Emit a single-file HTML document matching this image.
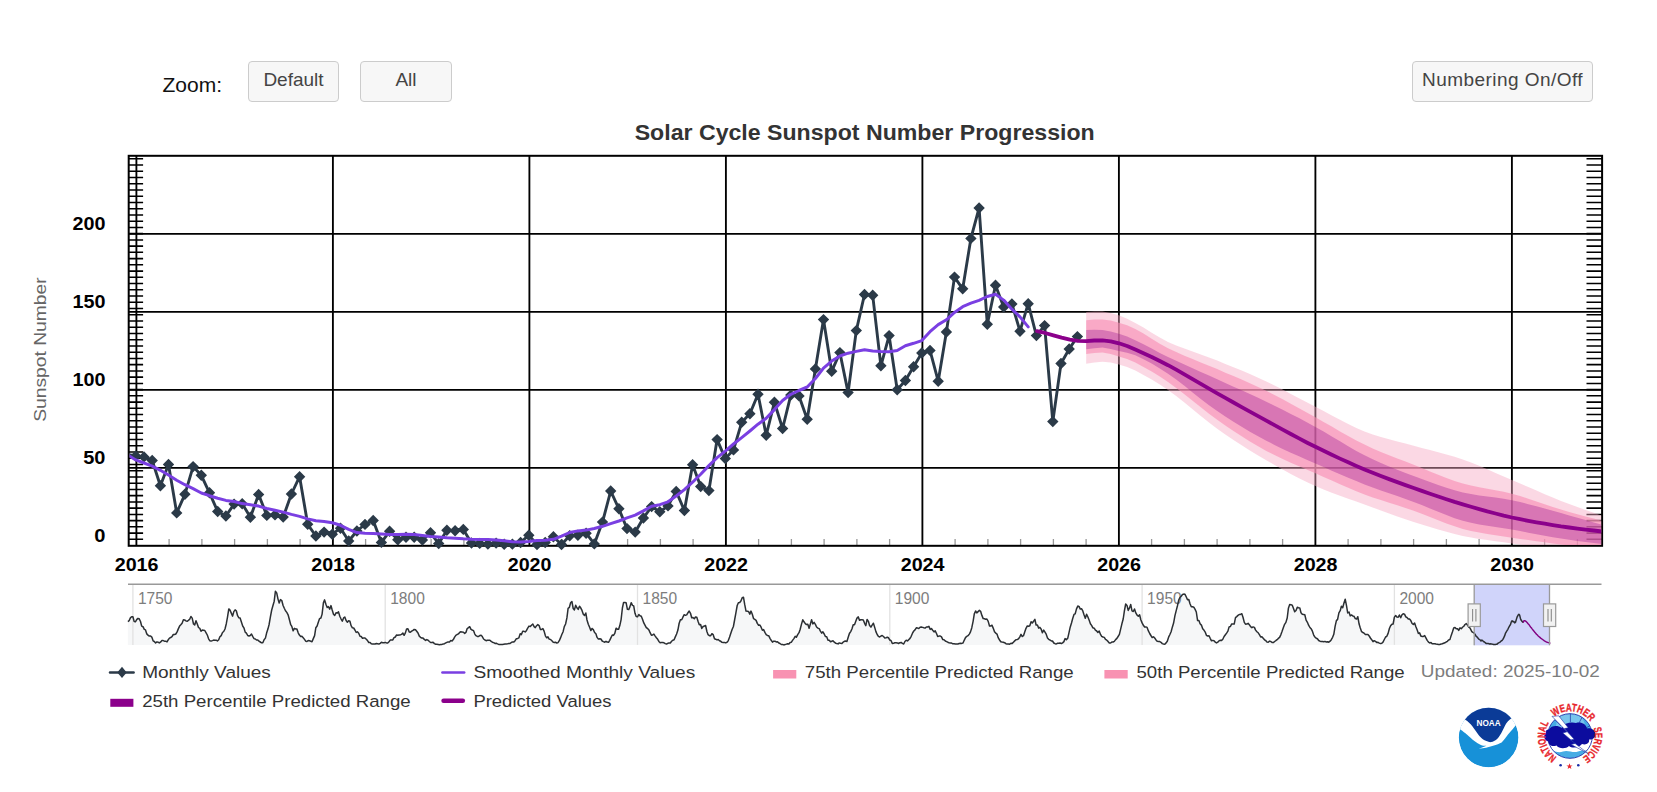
<!DOCTYPE html>
<html lang="en"><head><meta charset="utf-8">
<title>Solar Cycle Sunspot Number Progression</title>
<style>
html,body{margin:0;padding:0;background:#fff;}
body{width:1657px;height:792px;position:relative;overflow:hidden;font-family:"Liberation Sans", "DejaVu Sans", sans-serif;}
#chart{position:absolute;left:0;top:0;}
.btn{position:absolute;box-sizing:border-box;height:41px;top:61px;border:1px solid #ccc;border-radius:4px;background:#f7f7f7;color:#444;font-size:19px;line-height:35px;text-align:center;white-space:nowrap;}
#zl{position:absolute;left:162.5px;top:72px;font-size:21px;line-height:26px;color:#111;white-space:nowrap;}
svg text{font-family:"Liberation Sans", "DejaVu Sans", sans-serif;}
</style></head><body>
<div id="zl">Zoom:</div>
<div class="btn" style="left:248px;width:91px;">Default</div>
<div class="btn" style="left:360px;width:92px;">All</div>
<div class="btn" style="left:1412px;width:181px;letter-spacing:0.45px;">Numbering On/Off</div>
<svg id="chart" width="1657" height="792" viewBox="0 0 1657 792">
<defs><clipPath id="pc"><rect x="129.6" y="156.8" width="1471.6" height="388.2"/></clipPath></defs>
<text x="864.7" y="140.2" text-anchor="middle" font-size="22.5" font-weight="bold" fill="#333" textLength="460" lengthAdjust="spacingAndGlyphs">Solar Cycle Sunspot Number Progression</text>
<text transform="translate(46.2,349.6) rotate(-90)" text-anchor="middle" font-size="17" fill="#666" textLength="144.5" lengthAdjust="spacingAndGlyphs">Sunspot Number</text>
<path d="M128.7 467.9H1602.1M128.7 389.9H1602.1M128.7 311.9H1602.1M128.7 233.9H1602.1M136.4 155.8V545.9M332.9 155.8V545.9M529.4 155.8V545.9M725.9 155.8V545.9M922.4 155.8V545.9M1118.9 155.8V545.9M1315.4 155.8V545.9M1511.9 155.8V545.9" stroke="#000" stroke-width="1.85" fill="none"/>
<path d="M128.7 539.3h14.4M1602.1 539.3h-15.6M128.7 533.1h14.4M1602.1 533.1h-15.6M128.7 526.8h14.4M1602.1 526.8h-15.6M128.7 520.6h14.4M1602.1 520.6h-15.6M128.7 514.4h14.4M1602.1 514.4h-15.6M128.7 508.1h14.4M1602.1 508.1h-15.6M128.7 501.9h14.4M1602.1 501.9h-15.6M128.7 495.6h14.4M1602.1 495.6h-15.6M128.7 489.4h14.4M1602.1 489.4h-15.6M128.7 483.2h14.4M1602.1 483.2h-15.6M128.7 476.9h14.4M1602.1 476.9h-15.6M128.7 470.7h14.4M1602.1 470.7h-15.6M128.7 464.5h14.4M1602.1 464.5h-15.6M128.7 458.2h14.4M1602.1 458.2h-15.6M128.7 452h14.4M1602.1 452h-15.6M128.7 445.7h14.4M1602.1 445.7h-15.6M128.7 439.5h14.4M1602.1 439.5h-15.6M128.7 433.3h14.4M1602.1 433.3h-15.6M128.7 427h14.4M1602.1 427h-15.6M128.7 420.8h14.4M1602.1 420.8h-15.6M128.7 414.5h14.4M1602.1 414.5h-15.6M128.7 408.3h14.4M1602.1 408.3h-15.6M128.7 402.1h14.4M1602.1 402.1h-15.6M128.7 395.8h14.4M1602.1 395.8h-15.6M128.7 389.6h14.4M1602.1 389.6h-15.6M128.7 383.4h14.4M1602.1 383.4h-15.6M128.7 377.1h14.4M1602.1 377.1h-15.6M128.7 370.9h14.4M1602.1 370.9h-15.6M128.7 364.6h14.4M1602.1 364.6h-15.6M128.7 358.4h14.4M1602.1 358.4h-15.6M128.7 352.2h14.4M1602.1 352.2h-15.6M128.7 345.9h14.4M1602.1 345.9h-15.6M128.7 339.7h14.4M1602.1 339.7h-15.6M128.7 333.4h14.4M1602.1 333.4h-15.6M128.7 327.2h14.4M1602.1 327.2h-15.6M128.7 321h14.4M1602.1 321h-15.6M128.7 314.7h14.4M1602.1 314.7h-15.6M128.7 308.5h14.4M1602.1 308.5h-15.6M128.7 302.3h14.4M1602.1 302.3h-15.6M128.7 296h14.4M1602.1 296h-15.6M128.7 289.8h14.4M1602.1 289.8h-15.6M128.7 283.5h14.4M1602.1 283.5h-15.6M128.7 277.3h14.4M1602.1 277.3h-15.6M128.7 271.1h14.4M1602.1 271.1h-15.6M128.7 264.8h14.4M1602.1 264.8h-15.6M128.7 258.6h14.4M1602.1 258.6h-15.6M128.7 252.3h14.4M1602.1 252.3h-15.6M128.7 246.1h14.4M1602.1 246.1h-15.6M128.7 239.9h14.4M1602.1 239.9h-15.6M128.7 233.6h14.4M1602.1 233.6h-15.6M128.7 227.4h14.4M1602.1 227.4h-15.6M128.7 221.2h14.4M1602.1 221.2h-15.6M128.7 214.9h14.4M1602.1 214.9h-15.6M128.7 208.7h14.4M1602.1 208.7h-15.6M128.7 202.4h14.4M1602.1 202.4h-15.6M128.7 196.2h14.4M1602.1 196.2h-15.6M128.7 190h14.4M1602.1 190h-15.6M128.7 183.7h14.4M1602.1 183.7h-15.6M128.7 177.5h14.4M1602.1 177.5h-15.6M128.7 171.2h14.4M1602.1 171.2h-15.6M128.7 165h14.4M1602.1 165h-15.6M128.7 158.8h14.4M1602.1 158.8h-15.6" stroke="#000" stroke-width="1.55" fill="none"/>
<path d="M169.1 545.9v-7M201.9 545.9v-7M234.6 545.9v-7M267.4 545.9v-7M300.1 545.9v-7M365.6 545.9v-7M398.4 545.9v-7M431.1 545.9v-7M463.9 545.9v-7M496.6 545.9v-7M562.1 545.9v-7M594.9 545.9v-7M627.6 545.9v-7M660.4 545.9v-7M693.1 545.9v-7M758.6 545.9v-7M791.4 545.9v-7M824.1 545.9v-7M856.9 545.9v-7M889.6 545.9v-7M955.1 545.9v-7M987.9 545.9v-7M1020.6 545.9v-7M1053.4 545.9v-7M1086.1 545.9v-7M1151.6 545.9v-7M1184.4 545.9v-7M1217.1 545.9v-7M1249.9 545.9v-7M1282.6 545.9v-7M1348.1 545.9v-7M1380.9 545.9v-7M1413.6 545.9v-7M1446.4 545.9v-7M1479.1 545.9v-7M1544.6 545.9v-7M1577.4 545.9v-7" stroke="#999" stroke-width="1.3" fill="none"/>
<rect x="128.7" y="155.8" width="1473.4" height="390" fill="none" stroke="#000" stroke-width="2"/>
<g clip-path="url(#pc)">
<path d="M1086.2 311.9L1094.3 311.5L1102.5 311.6L1110.7 313L1118.9 315.3L1127.1 318.7L1135.3 322.9L1143.5 327.6L1151.7 332.7L1159.8 337.6L1168 341.9L1176.2 345.4L1184.4 348.6L1192.6 351.6L1200.8 354.5L1209 357.4L1217.2 360.6L1225.3 363.9L1233.5 367.2L1241.7 370.6L1249.9 374.1L1258.1 377.7L1266.3 381.5L1274.5 385.4L1282.7 389.6L1290.8 393.9L1299 398.2L1307.2 402.5L1315.4 406.7L1323.6 411L1331.8 415.4L1340 419.7L1348.2 423.9L1356.3 427.9L1364.5 431.4L1372.7 434.4L1380.9 436.9L1389.1 439.2L1397.3 441.4L1405.5 443.5L1413.7 445.7L1421.8 448L1430 450.1L1438.2 452.2L1446.4 454.4L1454.6 456.8L1462.8 459.4L1471 462.5L1479.2 465.8L1487.3 469.3L1495.5 472.9L1503.7 476.5L1511.9 480L1520.1 483.5L1528.3 487.1L1536.5 490.6L1544.7 494.2L1552.8 497.6L1561 500.9L1569.2 504.1L1577.4 507.1L1585.6 510L1593.8 512.8L1602 515.7L1602 554.4L1593.8 553.5L1585.6 552.6L1577.4 551.7L1569.2 550.7L1561 549.7L1552.8 548.7L1544.7 547.7L1536.5 546.7L1528.3 545.6L1520.1 544.5L1511.9 543.4L1503.7 542.2L1495.5 541.2L1487.3 540.1L1479.2 538.9L1471 537.5L1462.8 535.9L1454.6 534L1446.4 531.8L1438.2 529.6L1430 527.1L1421.8 524.6L1413.7 522L1405.5 519.3L1397.3 516.5L1389.1 513.5L1380.9 510.5L1372.7 507.5L1364.5 504.5L1356.3 501.6L1348.2 498.7L1340 495.8L1331.8 492.8L1323.6 489.6L1315.4 486.1L1307.2 482.3L1299 478.3L1290.8 474L1282.7 469.6L1274.5 465L1266.3 460.2L1258.1 455.4L1249.9 450.4L1241.7 445.3L1233.5 440L1225.3 434.5L1217.2 428.7L1209 422.6L1200.8 416L1192.6 409.3L1184.4 402.5L1176.2 396L1168 389.9L1159.8 384.4L1151.7 379.5L1143.5 374.9L1135.3 370.6L1127.1 367L1118.9 364.5L1110.7 362.6L1102.5 361.7L1094.3 362.4L1086.2 363.7Z" fill="#f6a8c3" fill-opacity="0.45"/>
<path d="M1086.2 320.2L1094.3 319.5L1102.5 319.4L1110.7 320.6L1118.9 322.7L1127.1 325.3L1135.3 328.9L1143.5 333.6L1151.7 338.7L1159.8 343.8L1168 348.2L1176.2 352.1L1184.4 355.7L1192.6 359.1L1200.8 362.4L1209 365.7L1217.2 369.1L1225.3 372.7L1233.5 376.1L1241.7 379.6L1249.9 383.2L1258.1 386.9L1266.3 390.8L1274.5 395L1282.7 399.3L1290.8 403.7L1299 408.3L1307.2 412.8L1315.4 417.3L1323.6 421.9L1331.8 426.6L1340 431.4L1348.2 436L1356.3 440.5L1364.5 444.6L1372.7 448.4L1380.9 451.9L1389.1 455.2L1397.3 458.4L1405.5 461.6L1413.7 464.8L1421.8 468L1430 471.4L1438.2 474.7L1446.4 477.9L1454.6 480.9L1462.8 483.5L1471 485.6L1479.2 487.3L1487.3 488.8L1495.5 490.2L1503.7 491.8L1511.9 493.8L1520.1 496.1L1528.3 498.7L1536.5 501.4L1544.7 504.2L1552.8 506.9L1561 509.5L1569.2 511.9L1577.4 514.2L1585.6 516.4L1593.8 518.6L1602 520.9L1602 549.7L1593.8 548.7L1585.6 547.6L1577.4 546.6L1569.2 545.5L1561 544.4L1552.8 543.4L1544.7 542.3L1536.5 541.2L1528.3 540.1L1520.1 539L1511.9 537.7L1503.7 536.5L1495.5 535.3L1487.3 534L1479.2 532.6L1471 530.9L1462.8 528.9L1454.6 526.3L1446.4 523.4L1438.2 520.3L1430 517L1421.8 513.8L1413.7 510.8L1405.5 508L1397.3 505.3L1389.1 502.8L1380.9 500.1L1372.7 497.4L1364.5 494.4L1356.3 491.2L1348.2 487.8L1340 484.2L1331.8 480.6L1323.6 477L1315.4 473.3L1307.2 469.8L1299 466.3L1290.8 462.7L1282.7 459.1L1274.5 455.1L1266.3 450.9L1258.1 446.3L1249.9 441.4L1241.7 436.2L1233.5 430.9L1225.3 425.4L1217.2 419.7L1209 413.7L1200.8 407.3L1192.6 400.8L1184.4 394.2L1176.2 387.9L1168 381.9L1159.8 376.5L1151.7 371.6L1143.5 367L1135.3 362.6L1127.1 359L1118.9 356.4L1110.7 354L1102.5 352.6L1094.3 352.9L1086.2 353.9Z" fill="#f88ab2" fill-opacity="0.6"/>
<path d="M1086.2 330L1094.3 329.8L1102.5 330L1110.7 331.5L1118.9 333.7L1127.1 336.6L1135.3 340.2L1143.5 344.2L1151.7 348.6L1159.8 352.9L1168 357L1176.2 360.8L1184.4 364.6L1192.6 368.3L1200.8 371.9L1209 375.6L1217.2 379.3L1225.3 383L1233.5 386.7L1241.7 390.3L1249.9 394.1L1258.1 397.8L1266.3 401.7L1274.5 405.7L1282.7 409.8L1290.8 413.9L1299 418.1L1307.2 422.4L1315.4 426.9L1323.6 431.5L1331.8 436.4L1340 441.3L1348.2 446.2L1356.3 450.9L1364.5 455.2L1372.7 459.2L1380.9 462.9L1389.1 466.4L1397.3 469.7L1405.5 472.9L1413.7 476L1421.8 479.1L1430 482.1L1438.2 485L1446.4 487.7L1454.6 490.2L1462.8 492.4L1471 494.1L1479.2 495.5L1487.3 496.6L1495.5 497.6L1503.7 498.8L1511.9 500.3L1520.1 502.1L1528.3 504.2L1536.5 506.3L1544.7 508.6L1552.8 510.8L1561 513.1L1569.2 515.4L1577.4 517.7L1585.6 520.1L1593.8 522.4L1602 524.8L1602 544L1593.8 542.9L1585.6 541.9L1577.4 540.9L1569.2 539.7L1561 538.5L1552.8 537.2L1544.7 535.7L1536.5 534.2L1528.3 532.7L1520.1 531.1L1511.9 529.6L1503.7 528.3L1495.5 527L1487.3 525.8L1479.2 524.4L1471 522.8L1462.8 520.7L1454.6 518.2L1446.4 515.1L1438.2 511.8L1430 508.4L1421.8 505L1413.7 501.9L1405.5 498.9L1397.3 496.1L1389.1 493.3L1380.9 490.4L1372.7 487.5L1364.5 484.4L1356.3 481.1L1348.2 477.8L1340 474.3L1331.8 470.7L1323.6 467.1L1315.4 463.5L1307.2 459.9L1299 456.3L1290.8 452.7L1282.7 448.9L1274.5 444.9L1266.3 440.7L1258.1 436.3L1249.9 431.7L1241.7 426.8L1233.5 421.8L1225.3 416.6L1217.2 411.1L1209 405.2L1200.8 398.9L1192.6 392.4L1184.4 385.8L1176.2 379.5L1168 373.7L1159.8 368.4L1151.7 363.6L1143.5 359.2L1135.3 355.3L1127.1 352.7L1118.9 351.1L1110.7 349L1102.5 347.6L1094.3 348.2L1086.2 349.3Z" fill="#8b008b" fill-opacity="0.3"/>
<path d="M127.6 454.4L135.8 456L144 456.9L152.2 460.5L160.4 485.7L168.5 464.5L176.7 512.9L184.9 494.3L193.1 466.6L201.3 475.3L209.5 492.8L217.7 511.5L225.9 516L234.1 504.1L242.2 503.7L250.4 517.2L258.6 494.5L266.8 515.4L275 514.9L283.2 517.1L291.4 494L299.6 476.7L307.7 524.3L315.9 536L324.1 532.1L332.3 534.2L340.5 528.2L348.7 541L356.9 531L365 524.4L373.2 520.5L381.4 542.4L389.6 531.3L397.8 539.7L406 537.2L414.2 537.2L422.4 540L430.5 532.8L438.7 543.6L446.9 530.2L455.1 530.7L463.3 529.4L471.5 543L479.7 543.4L487.9 544.1L496.1 543.1L504.2 544.2L512.4 544.1L520.6 542.5L528.8 535.2L537 544.5L545.2 542.5L553.4 536.7L561.5 544.5L569.7 535.8L577.9 535.3L586.1 533.2L594.3 543.9L602.5 522.1L610.7 491L618.9 508.8L627 528.6L635.2 532.1L643.4 518L651.6 506.6L659.8 511.8L668 505.9L676.2 491.4L684.4 510.5L692.6 464.8L700.7 486.5L708.9 490.6L717.1 439.6L725.3 458.6L733.5 449.9L741.7 422.3L749.9 413.8L758 394.3L766.2 435.2L774.4 402.3L782.6 428.5L790.8 395.1L799 395.9L807.2 419.3L815.4 368.9L823.5 319.6L831.7 371.3L839.9 352.6L848.1 392.6L856.3 330.6L864.5 294.5L872.7 295.3L880.9 365.8L889.1 335.6L897.2 389.8L905.4 380.5L913.6 366.7L921.8 353L930 350.4L938.2 381.2L946.4 332L954.5 277.1L962.7 288.8L970.9 238.4L979.1 208L987.3 324.3L995.5 285.3L1003.7 307L1011.9 303.9L1020 331.2L1028.2 303.7L1036.4 335.6L1044.6 325.6L1052.8 421.6L1061 363.5L1069.2 349L1077.4 336.6" stroke="#2b3a48" stroke-width="2.9" fill="none" stroke-linejoin="round" stroke-linecap="round"/>
</g>
<path d="M135.8 450.3l5.7 5.7l-5.7 5.7l-5.7 -5.7zM144 451.2l5.7 5.7l-5.7 5.7l-5.7 -5.7zM152.2 454.8l5.7 5.7l-5.7 5.7l-5.7 -5.7zM160.4 480l5.7 5.7l-5.7 5.7l-5.7 -5.7zM168.5 458.8l5.7 5.7l-5.7 5.7l-5.7 -5.7zM176.7 507.2l5.7 5.7l-5.7 5.7l-5.7 -5.7zM184.9 488.6l5.7 5.7l-5.7 5.7l-5.7 -5.7zM193.1 460.9l5.7 5.7l-5.7 5.7l-5.7 -5.7zM201.3 469.6l5.7 5.7l-5.7 5.7l-5.7 -5.7zM209.5 487.1l5.7 5.7l-5.7 5.7l-5.7 -5.7zM217.7 505.8l5.7 5.7l-5.7 5.7l-5.7 -5.7zM225.9 510.3l5.7 5.7l-5.7 5.7l-5.7 -5.7zM234.1 498.4l5.7 5.7l-5.7 5.7l-5.7 -5.7zM242.2 498l5.7 5.7l-5.7 5.7l-5.7 -5.7zM250.4 511.5l5.7 5.7l-5.7 5.7l-5.7 -5.7zM258.6 488.8l5.7 5.7l-5.7 5.7l-5.7 -5.7zM266.8 509.7l5.7 5.7l-5.7 5.7l-5.7 -5.7zM275 509.2l5.7 5.7l-5.7 5.7l-5.7 -5.7zM283.2 511.4l5.7 5.7l-5.7 5.7l-5.7 -5.7zM291.4 488.3l5.7 5.7l-5.7 5.7l-5.7 -5.7zM299.6 471l5.7 5.7l-5.7 5.7l-5.7 -5.7zM307.7 518.6l5.7 5.7l-5.7 5.7l-5.7 -5.7zM315.9 530.3l5.7 5.7l-5.7 5.7l-5.7 -5.7zM324.1 526.4l5.7 5.7l-5.7 5.7l-5.7 -5.7zM332.3 528.5l5.7 5.7l-5.7 5.7l-5.7 -5.7zM340.5 522.5l5.7 5.7l-5.7 5.7l-5.7 -5.7zM348.7 535.3l5.7 5.7l-5.7 5.7l-5.7 -5.7zM356.9 525.3l5.7 5.7l-5.7 5.7l-5.7 -5.7zM365 518.7l5.7 5.7l-5.7 5.7l-5.7 -5.7zM373.2 514.8l5.7 5.7l-5.7 5.7l-5.7 -5.7zM381.4 536.7l5.7 5.7l-5.7 5.7l-5.7 -5.7zM389.6 525.6l5.7 5.7l-5.7 5.7l-5.7 -5.7zM397.8 534l5.7 5.7l-5.7 5.7l-5.7 -5.7zM406 531.5l5.7 5.7l-5.7 5.7l-5.7 -5.7zM414.2 531.5l5.7 5.7l-5.7 5.7l-5.7 -5.7zM422.4 534.3l5.7 5.7l-5.7 5.7l-5.7 -5.7zM430.5 527.1l5.7 5.7l-5.7 5.7l-5.7 -5.7zM438.7 537.9l5.7 5.7l-5.7 5.7l-5.7 -5.7zM446.9 524.5l5.7 5.7l-5.7 5.7l-5.7 -5.7zM455.1 525l5.7 5.7l-5.7 5.7l-5.7 -5.7zM463.3 523.7l5.7 5.7l-5.7 5.7l-5.7 -5.7zM471.5 537.3l5.7 5.7l-5.7 5.7l-5.7 -5.7zM479.7 537.7l5.7 5.7l-5.7 5.7l-5.7 -5.7zM487.9 538.4l5.7 5.7l-5.7 5.7l-5.7 -5.7zM496.1 537.4l5.7 5.7l-5.7 5.7l-5.7 -5.7zM504.2 538.5l5.7 5.7l-5.7 5.7l-5.7 -5.7zM512.4 538.4l5.7 5.7l-5.7 5.7l-5.7 -5.7zM520.6 536.8l5.7 5.7l-5.7 5.7l-5.7 -5.7zM528.8 529.5l5.7 5.7l-5.7 5.7l-5.7 -5.7zM537 538.8l5.7 5.7l-5.7 5.7l-5.7 -5.7zM545.2 536.8l5.7 5.7l-5.7 5.7l-5.7 -5.7zM553.4 531l5.7 5.7l-5.7 5.7l-5.7 -5.7zM561.5 538.8l5.7 5.7l-5.7 5.7l-5.7 -5.7zM569.7 530.1l5.7 5.7l-5.7 5.7l-5.7 -5.7zM577.9 529.6l5.7 5.7l-5.7 5.7l-5.7 -5.7zM586.1 527.5l5.7 5.7l-5.7 5.7l-5.7 -5.7zM594.3 538.2l5.7 5.7l-5.7 5.7l-5.7 -5.7zM602.5 516.4l5.7 5.7l-5.7 5.7l-5.7 -5.7zM610.7 485.3l5.7 5.7l-5.7 5.7l-5.7 -5.7zM618.9 503.1l5.7 5.7l-5.7 5.7l-5.7 -5.7zM627 522.9l5.7 5.7l-5.7 5.7l-5.7 -5.7zM635.2 526.4l5.7 5.7l-5.7 5.7l-5.7 -5.7zM643.4 512.3l5.7 5.7l-5.7 5.7l-5.7 -5.7zM651.6 500.9l5.7 5.7l-5.7 5.7l-5.7 -5.7zM659.8 506.1l5.7 5.7l-5.7 5.7l-5.7 -5.7zM668 500.2l5.7 5.7l-5.7 5.7l-5.7 -5.7zM676.2 485.7l5.7 5.7l-5.7 5.7l-5.7 -5.7zM684.4 504.8l5.7 5.7l-5.7 5.7l-5.7 -5.7zM692.6 459.1l5.7 5.7l-5.7 5.7l-5.7 -5.7zM700.7 480.8l5.7 5.7l-5.7 5.7l-5.7 -5.7zM708.9 484.9l5.7 5.7l-5.7 5.7l-5.7 -5.7zM717.1 433.9l5.7 5.7l-5.7 5.7l-5.7 -5.7zM725.3 452.9l5.7 5.7l-5.7 5.7l-5.7 -5.7zM733.5 444.2l5.7 5.7l-5.7 5.7l-5.7 -5.7zM741.7 416.6l5.7 5.7l-5.7 5.7l-5.7 -5.7zM749.9 408.1l5.7 5.7l-5.7 5.7l-5.7 -5.7zM758 388.6l5.7 5.7l-5.7 5.7l-5.7 -5.7zM766.2 429.5l5.7 5.7l-5.7 5.7l-5.7 -5.7zM774.4 396.6l5.7 5.7l-5.7 5.7l-5.7 -5.7zM782.6 422.8l5.7 5.7l-5.7 5.7l-5.7 -5.7zM790.8 389.4l5.7 5.7l-5.7 5.7l-5.7 -5.7zM799 390.2l5.7 5.7l-5.7 5.7l-5.7 -5.7zM807.2 413.6l5.7 5.7l-5.7 5.7l-5.7 -5.7zM815.4 363.2l5.7 5.7l-5.7 5.7l-5.7 -5.7zM823.5 313.9l5.7 5.7l-5.7 5.7l-5.7 -5.7zM831.7 365.6l5.7 5.7l-5.7 5.7l-5.7 -5.7zM839.9 346.9l5.7 5.7l-5.7 5.7l-5.7 -5.7zM848.1 386.9l5.7 5.7l-5.7 5.7l-5.7 -5.7zM856.3 324.9l5.7 5.7l-5.7 5.7l-5.7 -5.7zM864.5 288.8l5.7 5.7l-5.7 5.7l-5.7 -5.7zM872.7 289.6l5.7 5.7l-5.7 5.7l-5.7 -5.7zM880.9 360.1l5.7 5.7l-5.7 5.7l-5.7 -5.7zM889.1 329.9l5.7 5.7l-5.7 5.7l-5.7 -5.7zM897.2 384.1l5.7 5.7l-5.7 5.7l-5.7 -5.7zM905.4 374.8l5.7 5.7l-5.7 5.7l-5.7 -5.7zM913.6 361l5.7 5.7l-5.7 5.7l-5.7 -5.7zM921.8 347.3l5.7 5.7l-5.7 5.7l-5.7 -5.7zM930 344.7l5.7 5.7l-5.7 5.7l-5.7 -5.7zM938.2 375.5l5.7 5.7l-5.7 5.7l-5.7 -5.7zM946.4 326.3l5.7 5.7l-5.7 5.7l-5.7 -5.7zM954.5 271.4l5.7 5.7l-5.7 5.7l-5.7 -5.7zM962.7 283.1l5.7 5.7l-5.7 5.7l-5.7 -5.7zM970.9 232.7l5.7 5.7l-5.7 5.7l-5.7 -5.7zM979.1 202.3l5.7 5.7l-5.7 5.7l-5.7 -5.7zM987.3 318.6l5.7 5.7l-5.7 5.7l-5.7 -5.7zM995.5 279.6l5.7 5.7l-5.7 5.7l-5.7 -5.7zM1003.7 301.3l5.7 5.7l-5.7 5.7l-5.7 -5.7zM1011.9 298.2l5.7 5.7l-5.7 5.7l-5.7 -5.7zM1020 325.5l5.7 5.7l-5.7 5.7l-5.7 -5.7zM1028.2 298l5.7 5.7l-5.7 5.7l-5.7 -5.7zM1036.4 329.9l5.7 5.7l-5.7 5.7l-5.7 -5.7zM1044.6 319.9l5.7 5.7l-5.7 5.7l-5.7 -5.7zM1052.8 415.9l5.7 5.7l-5.7 5.7l-5.7 -5.7zM1061 357.8l5.7 5.7l-5.7 5.7l-5.7 -5.7zM1069.2 343.3l5.7 5.7l-5.7 5.7l-5.7 -5.7zM1077.4 330.9l5.7 5.7l-5.7 5.7l-5.7 -5.7z" fill="#2b3a48"/>
<g clip-path="url(#pc)">
<path d="M127.6 454.8L135.8 459.9L144 463L152.2 466.2L160.4 470.3L168.5 475L176.7 480.2L184.9 484.7L193.1 488.7L201.3 493L209.5 495.7L217.7 498.2L225.9 500.4L234.1 501.5L242.2 503.6L250.4 504.8L258.6 506.1L266.8 508.5L275 510.2L283.2 512.1L291.4 514.4L299.6 516.4L307.7 518.9L315.9 520.8L324.1 521.4L332.3 522.7L340.5 525.3L348.7 529.4L356.9 532.6L365 533.2L373.2 533.6L381.4 533.9L389.6 534.4L397.8 534.6L406 534.2L414.2 534.4L422.4 535.5L430.5 536.5L438.7 537.1L446.9 537.8L455.1 538.2L463.3 538.8L471.5 539.2L479.7 539.4L487.9 539.5L496.1 540L504.2 540.8L512.4 541.7L520.6 542L528.8 541.4L537 540.6L545.2 540.2L553.4 539.3L561.5 536.2L569.7 532.5L577.9 530.9L586.1 530.1L594.3 528.5L602.5 526.3L610.7 523.6L618.9 521L627 517.9L635.2 515.2L643.4 510.9L651.6 506.2L659.8 504.7L668 501.8L676.2 496L684.4 489.6L692.6 482.2L700.7 474.3L708.9 465.6L717.1 457.7L725.3 451.1L733.5 444L741.7 437.6L749.9 431L758 424.2L766.2 418.3L774.4 409.6L782.6 400.5L790.8 394.3L799 390.5L807.2 387L815.4 378.5L823.5 368.1L831.7 361.1L839.9 356L848.1 353.2L856.3 351.4L864.5 349.7L872.7 351L880.9 351.5L889.1 351.8L897.2 350.5L905.4 345.7L913.6 343.3L921.8 340.6L930 331.7L938.2 324.6L946.4 319.8L954.5 312.4L962.7 306.7L970.9 303.2L979.1 300.4L987.3 296.5L995.5 294.3L1003.7 300.1L1011.9 309.2L1020 316.9L1028.2 326.9" stroke="#7a3fe2" stroke-width="3" fill="none" stroke-linejoin="round" stroke-linecap="round"/>
<path d="M1037 331.1L1045.2 333L1053.4 335.3L1061.6 337.6L1069.8 339.7L1078 340.9L1086.2 341.1L1094.3 340.5L1102.5 340.3L1110.7 341.3L1118.9 343.3L1127.1 346L1135.3 349.5L1143.5 353.2L1151.7 357L1159.8 361L1168 365.2L1176.2 369.7L1184.4 374.4L1192.6 379.1L1200.8 383.9L1209 388.6L1217.2 393.3L1225.3 397.9L1233.5 402.5L1241.7 407.1L1249.9 411.6L1258.1 416.1L1266.3 420.6L1274.5 425.1L1282.7 429.6L1290.8 434L1299 438.4L1307.2 442.7L1315.4 446.8L1323.6 450.8L1331.8 454.8L1340 458.6L1348.2 462.3L1356.3 465.9L1364.5 469.4L1372.7 472.8L1380.9 476L1389.1 479.1L1397.3 482.1L1405.5 485.1L1413.7 488L1421.8 490.9L1430 493.7L1438.2 496.5L1446.4 499.2L1454.6 501.9L1462.8 504.4L1471 506.8L1479.2 509.1L1487.3 511.4L1495.5 513.5L1503.7 515.6L1511.9 517.5L1520.1 519.2L1528.3 520.8L1536.5 522.3L1544.7 523.7L1552.8 525.1L1561 526.4L1569.2 527.5L1577.4 528.6L1585.6 529.6L1593.8 530.5L1602 531.5" stroke="#8b008b" stroke-width="3.8" fill="none" stroke-linejoin="round" stroke-linecap="round"/>
</g>
<text x="105.4" y="541.6" text-anchor="end" font-size="18" font-weight="bold" fill="#000" textLength="11.2" lengthAdjust="spacingAndGlyphs">0</text>
<text x="105.4" y="463.6" text-anchor="end" font-size="18" font-weight="bold" fill="#000" textLength="22.2" lengthAdjust="spacingAndGlyphs">50</text>
<text x="105.4" y="385.6" text-anchor="end" font-size="18" font-weight="bold" fill="#000" textLength="33.0" lengthAdjust="spacingAndGlyphs">100</text>
<text x="105.4" y="307.6" text-anchor="end" font-size="18" font-weight="bold" fill="#000" textLength="33.0" lengthAdjust="spacingAndGlyphs">150</text>
<text x="105.4" y="229.6" text-anchor="end" font-size="18" font-weight="bold" fill="#000" textLength="33.0" lengthAdjust="spacingAndGlyphs">200</text>
<text x="136.6" y="570.6" text-anchor="middle" font-size="18" font-weight="bold" fill="#000" textLength="43.8" lengthAdjust="spacingAndGlyphs">2016</text>
<text x="333.1" y="570.6" text-anchor="middle" font-size="18" font-weight="bold" fill="#000" textLength="43.8" lengthAdjust="spacingAndGlyphs">2018</text>
<text x="529.6" y="570.6" text-anchor="middle" font-size="18" font-weight="bold" fill="#000" textLength="43.8" lengthAdjust="spacingAndGlyphs">2020</text>
<text x="726.1" y="570.6" text-anchor="middle" font-size="18" font-weight="bold" fill="#000" textLength="43.8" lengthAdjust="spacingAndGlyphs">2022</text>
<text x="922.6" y="570.6" text-anchor="middle" font-size="18" font-weight="bold" fill="#000" textLength="43.8" lengthAdjust="spacingAndGlyphs">2024</text>
<text x="1119.1" y="570.6" text-anchor="middle" font-size="18" font-weight="bold" fill="#000" textLength="43.8" lengthAdjust="spacingAndGlyphs">2026</text>
<text x="1315.6" y="570.6" text-anchor="middle" font-size="18" font-weight="bold" fill="#000" textLength="43.8" lengthAdjust="spacingAndGlyphs">2028</text>
<text x="1512.1" y="570.6" text-anchor="middle" font-size="18" font-weight="bold" fill="#000" textLength="43.8" lengthAdjust="spacingAndGlyphs">2030</text>
<g id="navigator">
<path d="M127.9 644.9L127.9 621.6L129.1 620.7L130.4 617.9L131.6 616.7L132.9 616.7L134.2 621.6L135.4 621.8L136.7 619.6L137.9 618.4L139.2 618.7L140.5 621.5L141.7 626.1L143 626.7L144.3 629.4L145.5 629.9L146.8 633.9L148 635.1L149.3 636.1L150.6 636L151.8 637.1L153.1 640.8L154.3 641.5L155.6 642.9L156.9 641.9L158.1 642.3L159.4 642.9L160.7 641.9L161.9 640.6L163.2 640.6L164.4 641.2L165.7 641.2L167 641.9L168.2 639.8L169.5 638.1L170.7 637.5L172 636.7L173.3 634.5L174.5 634.6L175.8 634L177.1 631.9L178.3 628.9L179.6 626.1L180.8 624.8L182.1 623.2L183.4 619.7L184.6 619.9L185.9 620.9L187.1 621.3L188.4 620.4L189.7 619.2L190.9 616.5L192.2 618.1L193.5 624L194.7 625L196 620.7L197.2 623.7L198.5 627.5L199.8 628.4L201 631.3L202.3 630.1L203.5 630.2L204.8 630.5L206.1 632.8L207.3 635L208.6 638.8L209.9 640.8L211.1 641.1L212.4 640.6L213.6 640.1L214.9 640.3L216.2 640.2L217.4 641L218.7 639.8L219.9 636.7L221.2 635.6L222.5 632.5L223.7 631.5L225 629L226.3 623.7L227.5 617.1L228.8 608.9L230 610.1L231.3 613.1L232.6 616.1L233.8 611.6L235.1 609.9L236.3 610.8L237.6 615.7L238.9 617.8L240.1 618L241.4 621.9L242.7 626L243.9 627.8L245.2 632.1L246.4 633.1L247.7 635.5L249 636L250.2 635.5L251.5 634L252.7 636.3L254 638.6L255.3 639L256.5 640L257.8 639.9L259 641.2L260.3 642L261.6 642.8L262.8 642.8L264.1 639.7L265.4 638.1L266.6 633.1L267.9 629.1L269.1 624.5L270.4 616.9L271.7 610L272.9 605.8L274.2 601.2L275.4 591.3L276.7 592.9L278 599.1L279.2 603L280.5 599.6L281.8 600.5L283 605.2L284.3 608.3L285.5 610.8L286.8 612.4L288.1 614.8L289.3 619.2L290.6 624.3L291.8 626.4L293.1 630.8L294.4 628.3L295.6 628.9L296.9 629.1L298.2 632.8L299.4 635.1L300.7 636.5L301.9 636.3L303.2 637.7L304.5 639.4L305.7 641.2L307 641.4L308.2 640.5L309.5 640.8L310.8 641.2L312 641.7L313.3 638.6L314.6 635.6L315.8 627.8L317.1 626L318.3 622.2L319.6 618.6L320.9 618L322.1 614.1L323.4 602.8L324.6 599.9L325.9 604.2L327.2 607.5L328.4 606.6L329.7 609.2L331 605.6L332.2 610L333.5 614.3L334.7 615.5L336 612.8L337.3 613.1L338.5 611.9L339.8 616.2L341 618.8L342.3 621.2L343.6 617.9L344.8 617L346.1 620.5L347.4 622.2L348.6 620.7L349.9 621.3L351.1 625.6L352.4 627.8L353.7 628L354.9 630L356.2 632.4L357.4 631.8L358.7 633.2L360 636.2L361.2 636.5L362.5 638.2L363.8 638.1L365 638L366.3 639.2L367.5 640.6L368.8 642.5L370.1 642.4L371.3 643.7L372.6 644.1L373.8 643.9L375.1 644L376.4 643.5L377.6 643.7L378.9 644.1L380.2 643.3L381.4 642.3L382.7 642.7L383.9 642.7L385.2 642.4L386.5 642.9L387.7 643L389 641.7L390.2 640.1L391.5 640.1L392.8 639.9L394 637.6L395.3 637L396.6 634.9L397.8 635.2L399.1 634.9L400.3 634.9L401.6 634.4L402.9 633.1L404.1 635.3L405.4 632.9L406.6 628.9L407.9 628.8L409.2 631.9L410.4 632.2L411.7 631.2L413 630.4L414.2 629.4L415.5 629.7L416.7 631.2L418 633L419.3 636.1L420.5 637.3L421.8 638.1L423 638.1L424.3 639.4L425.6 640.4L426.8 639.6L428.1 640.2L429.4 641.5L430.6 642.5L431.9 642.6L433.1 642.3L434.4 643.6L435.7 644.2L436.9 644.3L438.2 644.5L439.4 644.8L440.7 644.6L442 644.4L443.2 644L444.5 643.7L445.8 642.9L447 642.3L448.3 641.9L449.5 642L450.8 640.6L452.1 640.9L453.3 639.6L454.6 637.1L455.8 635.4L457.1 634.5L458.4 633.9L459.6 632.5L460.9 631.7L462.2 632.1L463.4 632.3L464.7 633.4L465.9 632.4L467.2 628.6L468.5 627.7L469.7 626.7L471 629.4L472.2 630L473.5 630.6L474.8 634.1L476 635.7L477.3 636.4L478.6 636.4L479.8 635.6L481.1 635.3L482.3 636.6L483.6 639L484.9 640L486.1 640.7L487.4 640.3L488.6 640.2L489.9 640.2L491.2 641.4L492.4 642.2L493.7 642.6L495 643.4L496.2 643.2L497.5 643.9L498.7 644.4L500 644.5L501.3 644.4L502.5 644.5L503.8 644.3L505 644.1L506.3 643.9L507.6 643.8L508.8 643.6L510.1 643.4L511.3 642.5L512.6 641.9L513.9 641.9L515.1 640.7L516.4 638.7L517.7 638.4L518.9 637.8L520.2 633.7L521.4 634.6L522.7 631.2L524 631.3L525.2 631.9L526.5 630.4L527.7 628.2L529 626.1L530.3 626.6L531.5 625.3L532.8 624L534.1 626.6L535.3 627.6L536.6 625.7L537.8 624.6L539.1 625.6L540.4 629.4L541.6 629.4L542.9 628.6L544.1 631.1L545.4 635.8L546.7 637.8L547.9 636.8L549.2 639.1L550.5 639.5L551.7 640.5L553 642.1L554.2 642.4L555.5 642.2L556.8 643.1L558 642.6L559.3 640.7L560.5 637.9L561.8 634.5L563.1 631.7L564.3 626.6L565.6 624L566.9 617.9L568.1 608.3L569.4 607.3L570.6 602.8L571.9 601.5L573.2 608.5L574.4 609.9L575.7 605.3L576.9 607.8L578.2 609.4L579.5 606.3L580.7 607.8L582 610.4L583.3 614.3L584.5 615.5L585.8 613L587 620L588.3 624.2L589.6 627.3L590.8 630.5L592.1 628.5L593.3 629.6L594.6 632.5L595.9 633.8L597.1 637.4L598.4 639.1L599.7 638.7L600.9 639L602.2 641L603.4 641.6L604.7 642.2L606 641.3L607.2 642.1L608.5 642.3L609.7 640.3L611 637.7L612.3 635L613.5 635.4L614.8 633.4L616.1 628.2L617.3 629.2L618.6 629.3L619.8 625.6L621.1 619.6L622.4 608L623.6 602.4L624.9 602.5L626.1 602.7L627.4 609.3L628.7 609.6L629.9 606.9L631.2 602.7L632.5 605.3L633.7 605.9L635 613.3L636.2 616.5L637.5 616.8L638.8 614.5L640 615.8L641.3 616.3L642.5 619.2L643.8 622.9L645.1 625.4L646.3 627.7L647.6 628.5L648.9 629.9L650.1 632.7L651.4 635.2L652.6 634.9L653.9 634.1L655.2 636.1L656.4 637.7L657.7 639.3L658.9 641.4L660.2 642.8L661.5 642.4L662.7 642.6L664 642.8L665.3 643.6L666.5 644L667.8 643.3L669 643.1L670.3 643L671.6 641.3L672.8 640.2L674.1 639.7L675.3 636.9L676.6 634L677.9 630.1L679.1 623.5L680.4 619.7L681.7 619.8L682.9 617.2L684.2 614.7L685.4 615.3L686.7 614.9L688 612.7L689.2 611L690.5 613.3L691.7 617.7L693 617.6L694.3 618.7L695.5 617L696.8 617.3L698.1 621.4L699.3 624.7L700.6 624.6L701.8 628.4L703.1 626.5L704.4 626L705.6 625.5L706.9 631.5L708.1 634.7L709.4 635.7L710.7 635.7L711.9 633.7L713.2 634.7L714.5 638.7L715.7 639.2L717 639.9L718.2 639.5L719.5 640.7L720.8 641.3L722 642.3L723.3 642.6L724.5 642.4L725.8 642.9L727.1 642.2L728.3 640.6L729.6 637.1L730.9 633L732.1 629.5L733.4 626.5L734.6 620L735.9 612.9L737.2 605.5L738.4 602.7L739.7 602.5L740.9 601L742.2 597.8L743.5 597.3L744.7 604.4L746 611.1L747.3 611.2L748.5 611.4L749.8 614.1L751 611.1L752.3 614.3L753.6 618.7L754.8 619.4L756.1 620.4L757.3 623.4L758.6 625.2L759.9 625L761.1 627.2L762.4 630.2L763.6 629.6L764.9 632.4L766.2 634.6L767.4 635.4L768.7 635.7L770 638.3L771.2 640.3L772.5 642.1L773.7 641.2L775 641.3L776.3 641.9L777.5 641.7L778.8 643L780 643.5L781.3 644.5L782.6 644.5L783.8 644.9L785.1 644.6L786.4 644.1L787.6 643.7L788.9 643.9L790.1 642.5L791.4 642.2L792.7 640.1L793.9 638.6L795.2 636.3L796.4 637.2L797.7 634.6L799 632.7L800.2 629.3L801.5 624.1L802.8 619.8L804 621.8L805.3 623.6L806.5 624.6L807.8 624.3L809.1 628.3L810.3 624.3L811.6 619.7L812.8 623.9L814.1 622.4L815.4 624.4L816.6 627L817.9 628.1L819.2 628.6L820.4 631.1L821.7 633.1L822.9 631.8L824.2 634L825.5 636.6L826.7 636.7L828 640.2L829.2 640.3L830.5 641.8L831.8 641.2L833 640.8L834.3 642.2L835.6 643.2L836.8 643.5L838.1 643.9L839.3 642.9L840.6 643.3L841.9 643.4L843.1 642.2L844.4 641.3L845.6 641.1L846.9 641.4L848.2 637.3L849.4 633.5L850.7 631.6L852 628.7L853.2 624.8L854.5 624.8L855.7 621.6L857 618.1L858.3 616.9L859.5 620.3L860.8 619.7L862 619.7L863.3 619.9L864.6 623.3L865.8 625.7L867.1 619.4L868.4 621.3L869.6 625.6L870.9 627.1L872.1 625.1L873.4 623.2L874.7 627.4L875.9 631.6L877.2 634.5L878.4 636.4L879.7 637L881 636L882.2 635.5L883.5 636.5L884.8 637.9L886 637.7L887.3 637.3L888.5 637.8L889.8 640L891.1 640.7L892.3 643.4L893.6 643.2L894.8 642.8L896.1 642.8L897.4 642.9L898.6 643.5L899.9 642.7L901.2 642.4L902.4 643.3L903.7 644L904.9 641.5L906.2 640.3L907.5 640.9L908.7 639.7L910 638.4L911.2 636.3L912.5 633.2L913.8 631L915 629.9L916.3 627.8L917.6 628.1L918.8 628.5L920.1 627.3L921.3 627L922.6 627.4L923.9 627.8L925.1 628.1L926.4 627L927.6 627L928.9 626.4L930.2 629.4L931.4 628.5L932.7 630.3L934 631.9L935.2 630.8L936.5 633.5L937.7 636.5L939 636.1L940.3 636L941.5 636.9L942.8 639.6L944 639.8L945.3 641L946.6 641.6L947.8 642.2L949.1 642.8L950.4 643.1L951.6 643.1L952.9 643.8L954.1 643.8L955.4 644L956.7 644L957.9 644L959.2 643.5L960.4 643.3L961.7 643.4L963 643L964.2 640.3L965.5 637.6L966.8 636.3L968 635.7L969.3 634.1L970.5 631.9L971.8 627.7L973.1 621.3L974.3 613.9L975.6 611L976.8 612.9L978.1 611.6L979.4 610.4L980.6 611.3L981.9 615.4L983.2 618.6L984.4 618.7L985.7 619.2L986.9 619L988.2 621.4L989.5 626L990.7 626L992 625.2L993.2 628.1L994.5 631.8L995.8 633.1L997 634.1L998.3 637.9L999.6 640L1000.8 641.7L1002.1 642L1003.3 642.2L1004.6 642.7L1005.9 643.7L1007.1 644L1008.4 643.9L1009.6 644.2L1010.9 643.3L1012.2 643.4L1013.4 642.2L1014.7 640.9L1015.9 639.7L1017.2 639.5L1018.5 638.8L1019.7 637.1L1021 634.4L1022.3 636.5L1023.5 635.7L1024.8 631.7L1026 628.3L1027.3 625.9L1028.6 626.2L1029.8 625.7L1031.1 621.8L1032.3 623L1033.6 621.2L1034.9 619.3L1036.1 625L1037.4 625L1038.7 628.1L1039.9 627.4L1041.2 629.2L1042.4 632.7L1043.7 630.1L1045 632.2L1046.2 634.2L1047.5 637.9L1048.7 639.3L1050 640L1051.3 640.9L1052.5 641L1053.8 643L1055.1 643.7L1056.3 643.9L1057.6 643.3L1058.8 643.2L1060.1 642.9L1061.4 643.6L1062.6 642.9L1063.9 641.6L1065.1 638.6L1066.4 639.6L1067.7 638.3L1068.9 633.1L1070.2 627.2L1071.5 623L1072.7 618.5L1074 614.4L1075.2 613.8L1076.5 608.9L1077.8 606.1L1079 606.4L1080.3 609.1L1081.5 608.7L1082.8 610.9L1084.1 615L1085.3 618.3L1086.6 614.3L1087.9 617L1089.1 620.1L1090.4 623.7L1091.6 625.4L1092.9 627.8L1094.2 628.2L1095.4 630.2L1096.7 631L1097.9 632.5L1099.2 631.1L1100.5 634.4L1101.7 636.3L1103 637L1104.3 637.4L1105.5 639.4L1106.8 640.2L1108 641.4L1109.3 642.9L1110.6 643L1111.8 642.1L1113.1 642L1114.3 641.4L1115.6 639.6L1116.9 638.4L1118.1 636.5L1119.4 634.4L1120.7 628.9L1121.9 623.8L1123.2 619L1124.4 610.9L1125.7 604L1127 605.4L1128.2 610.4L1129.5 607.9L1130.7 604.4L1132 610.8L1133.3 611.5L1134.5 609L1135.8 612.9L1137.1 615.2L1138.3 616.2L1139.6 614.8L1140.8 619.7L1142.1 622.9L1143.4 625.3L1144.6 627L1145.9 626.9L1147.1 627.4L1148.4 630.9L1149.7 633.5L1150.9 635.5L1152.2 637.5L1153.5 636.8L1154.7 638L1156 639.9L1157.2 641.3L1158.5 641.4L1159.8 641.6L1161 642.3L1162.3 643.6L1163.5 644L1164.8 644.2L1166.1 642.9L1167.3 641.2L1168.6 637.2L1169.9 634.5L1171.1 631.8L1172.4 626.9L1173.6 623.1L1174.9 615.9L1176.2 610.6L1177.4 606L1178.7 600.1L1179.9 597.5L1181.2 596.2L1182.5 594.5L1183.7 594.1L1185 594.3L1186.3 597L1187.5 599.8L1188.8 599.5L1190 603.8L1191.3 606.8L1192.6 606.8L1193.8 607.2L1195.1 609.4L1196.3 612L1197.6 620.6L1198.9 620.6L1200.1 623.8L1201.4 625.1L1202.7 628.7L1203.9 630.1L1205.2 632.1L1206.4 635.3L1207.7 636L1209 635.8L1210.2 638.3L1211.5 640.8L1212.7 640.4L1214 640.8L1215.3 642.1L1216.5 642.9L1217.8 642.1L1219.1 640.8L1220.3 640.2L1221.6 640.4L1222.8 639.3L1224.1 636.5L1225.4 634.7L1226.6 633.1L1227.9 631.1L1229.1 626.9L1230.4 626.5L1231.7 623.9L1232.9 624L1234.2 624.1L1235.5 617.6L1236.7 616.6L1238 615.4L1239.2 614.5L1240.5 614.4L1241.8 613.7L1243 617.2L1244.3 622.4L1245.5 624.2L1246.8 624.1L1248.1 623.3L1249.3 624.7L1250.6 626.7L1251.9 627.7L1253.1 626.9L1254.4 627.4L1255.6 630.1L1256.9 631.7L1258.2 632.8L1259.4 634.6L1260.7 637L1261.9 636.7L1263.2 638.2L1264.5 639.8L1265.7 640.5L1267 642.1L1268.2 642.2L1269.5 641.1L1270.8 641.5L1272 642.4L1273.3 642.6L1274.6 641.5L1275.8 640.7L1277.1 639.7L1278.3 638.4L1279.6 637.4L1280.9 634.6L1282.1 631.3L1283.4 627.4L1284.6 624.3L1285.9 622.4L1287.2 618L1288.4 608.3L1289.7 604.6L1291 604.7L1292.2 605.1L1293.5 608.4L1294.7 611.7L1296 610.5L1297.3 607.2L1298.5 607.7L1299.8 607.9L1301 612.7L1302.3 614.2L1303.6 614.4L1304.8 614.7L1306.1 620.1L1307.4 622.3L1308.6 625.2L1309.9 627.5L1311.1 628.7L1312.4 631.2L1313.7 635.1L1314.9 637L1316.2 638.2L1317.4 638.7L1318.7 640.5L1320 641.2L1321.2 641.5L1322.5 641.5L1323.8 641.8L1325 641.4L1326.3 642L1327.5 641.8L1328.8 642.2L1330.1 641.2L1331.3 639.7L1332.6 637.3L1333.8 634.3L1335.1 626.4L1336.4 620.6L1337.6 619.4L1338.9 612.8L1340.2 610.7L1341.4 606.3L1342.7 607.7L1343.9 603.2L1345.2 599.2L1346.5 605.6L1347.7 613L1349 612L1350.2 615.9L1351.5 614.9L1352.8 616L1354 616.3L1355.3 618.6L1356.6 619.1L1357.8 616.7L1359.1 624.1L1360.3 627.9L1361.6 631.7L1362.9 632.5L1364.1 633.2L1365.4 634.5L1366.6 634.6L1367.9 634.6L1369.2 636L1370.4 638L1371.7 639.7L1373 641.6L1374.2 640.7L1375.5 641.4L1376.7 642.4L1378 642.3L1379.3 643.1L1380.5 643.6L1381.8 643.2L1383 642.1L1384.3 639.5L1385.6 637L1386.8 636.3L1388.1 633.4L1389.4 628.5L1390.6 625.8L1391.9 624.2L1393.1 624L1394.4 617.1L1395.7 615.5L1396.9 617.1L1398.2 617.2L1399.4 615L1400.7 617.7L1402 614.8L1403.2 613.7L1404.5 614.1L1405.8 616.9L1407 617.5L1408.3 618.9L1409.5 619.1L1410.8 620.6L1412.1 623.5L1413.3 624.4L1414.6 623.1L1415.8 626.5L1417.1 629.8L1418.4 633.4L1419.6 632.9L1420.9 636.1L1422.2 636.4L1423.4 636.4L1424.7 635.6L1425.9 637.8L1427.2 640.4L1428.5 642.1L1429.7 642.9L1431 642.6L1432.2 643.8L1433.5 643.7L1434.8 643.7L1436 644L1437.3 644.2L1438.6 644.4L1439.8 644.4L1441.1 644.1L1442.3 643.8L1443.6 643.3L1444.9 642.8L1446.1 642L1447.4 641.3L1448.6 639.9L1449.9 639.6L1451.2 635.4L1452.4 632.1L1453.7 628L1455 627.4L1456.2 628.7L1457.5 628.7L1458.7 630.4L1460 627.8L1461.3 628.7L1462.5 627.3L1463.8 626.2L1465 624.5L1466.3 623.6L1467.6 625.3L1468.8 627.2L1470.1 628.1L1471.8 631.6L1472.6 632.3L1473.5 632.6L1474.3 633.5L1475.1 634.3L1476 636.1L1476.8 636.7L1477.7 637.8L1478.5 638.8L1479.3 639.4L1480.2 640L1481 640.9L1481.9 640.1L1482.7 640.8L1483.5 641.5L1484.4 642L1485.2 642.6L1486.1 643.4L1486.9 643.4L1487.8 643.6L1488.6 643.6L1489.4 644L1490.3 643.8L1491.1 643.9L1492 644.1L1492.8 644.2L1493.6 644.4L1494.5 644.6L1495.3 644.6L1496.2 644.3L1497 644.2L1497.8 643.4L1498.7 642.8L1499.5 642.4L1500.4 641.8L1501.2 640.9L1502 640.5L1502.9 639.4L1503.7 637.8L1504.6 635.9L1505.4 633.4L1506.3 631.9L1507.1 630.5L1507.9 629.3L1508.8 627.3L1509.6 625.9L1510.5 624.5L1511.3 621.9L1512.1 620.8L1513 621.8L1513.8 621.5L1514.7 622.9L1515.5 622.2L1516.3 619.6L1517.2 616.8L1518 615.3L1518.9 614.3L1519.7 615.3L1520.6 619.2L1521.4 620.5L1522.2 621.5L1523.1 622.6L1523.9 620.8L1524.8 620.7L1525.6 621.1L1526.4 621.8L1527.3 622.7L1528.1 623.7L1529 624.7L1529.8 625.8L1530.6 627L1531.5 628L1532.3 629.1L1533.2 630.2L1534 631.2L1534.8 632.3L1535.7 633.2L1536.5 634.2L1537.4 635.1L1538.2 635.9L1539.1 636.7L1539.9 637.4L1540.7 638.1L1541.6 638.8L1542.4 639.4L1543.3 640L1544.1 640.6L1544.9 641.1L1545.8 641.6L1546.6 642L1547.5 642.3L1548.3 642.6L1549.1 642.9L1550 643.1L1550.4 643.2L1550.4 644.9Z" fill="#5a6a78" fill-opacity="0.055"/>
<rect x="1474.2" y="584.3" width="75.3" height="61" fill="#d0d4fa"/>
<path d="M132.9 584.3V644.9" stroke="#e2e2e2" stroke-width="1.3"/>
<text x="137.9" y="604.3" font-size="15.6" fill="#7d7d7d" textLength="34.6" lengthAdjust="spacingAndGlyphs">1750</text>
<path d="M385.2 584.3V644.9" stroke="#e2e2e2" stroke-width="1.3"/>
<text x="390.2" y="604.3" font-size="15.6" fill="#7d7d7d" textLength="34.6" lengthAdjust="spacingAndGlyphs">1800</text>
<path d="M637.5 584.3V644.9" stroke="#e2e2e2" stroke-width="1.3"/>
<text x="642.5" y="604.3" font-size="15.6" fill="#7d7d7d" textLength="34.6" lengthAdjust="spacingAndGlyphs">1850</text>
<path d="M889.8 584.3V644.9" stroke="#e2e2e2" stroke-width="1.3"/>
<text x="894.8" y="604.3" font-size="15.6" fill="#7d7d7d" textLength="34.6" lengthAdjust="spacingAndGlyphs">1900</text>
<path d="M1142.1 584.3V644.9" stroke="#e2e2e2" stroke-width="1.3"/>
<text x="1147.1" y="604.3" font-size="15.6" fill="#7d7d7d" textLength="34.6" lengthAdjust="spacingAndGlyphs">1950</text>
<path d="M1394.4 584.3V644.9" stroke="#e2e2e2" stroke-width="1.3"/>
<text x="1399.4" y="604.3" font-size="15.6" fill="#7d7d7d" textLength="34.6" lengthAdjust="spacingAndGlyphs">2000</text>
<path d="M127.9 621.6L129.1 620.7L130.4 617.9L131.6 616.7L132.9 616.7L134.2 621.6L135.4 621.8L136.7 619.6L137.9 618.4L139.2 618.7L140.5 621.5L141.7 626.1L143 626.7L144.3 629.4L145.5 629.9L146.8 633.9L148 635.1L149.3 636.1L150.6 636L151.8 637.1L153.1 640.8L154.3 641.5L155.6 642.9L156.9 641.9L158.1 642.3L159.4 642.9L160.7 641.9L161.9 640.6L163.2 640.6L164.4 641.2L165.7 641.2L167 641.9L168.2 639.8L169.5 638.1L170.7 637.5L172 636.7L173.3 634.5L174.5 634.6L175.8 634L177.1 631.9L178.3 628.9L179.6 626.1L180.8 624.8L182.1 623.2L183.4 619.7L184.6 619.9L185.9 620.9L187.1 621.3L188.4 620.4L189.7 619.2L190.9 616.5L192.2 618.1L193.5 624L194.7 625L196 620.7L197.2 623.7L198.5 627.5L199.8 628.4L201 631.3L202.3 630.1L203.5 630.2L204.8 630.5L206.1 632.8L207.3 635L208.6 638.8L209.9 640.8L211.1 641.1L212.4 640.6L213.6 640.1L214.9 640.3L216.2 640.2L217.4 641L218.7 639.8L219.9 636.7L221.2 635.6L222.5 632.5L223.7 631.5L225 629L226.3 623.7L227.5 617.1L228.8 608.9L230 610.1L231.3 613.1L232.6 616.1L233.8 611.6L235.1 609.9L236.3 610.8L237.6 615.7L238.9 617.8L240.1 618L241.4 621.9L242.7 626L243.9 627.8L245.2 632.1L246.4 633.1L247.7 635.5L249 636L250.2 635.5L251.5 634L252.7 636.3L254 638.6L255.3 639L256.5 640L257.8 639.9L259 641.2L260.3 642L261.6 642.8L262.8 642.8L264.1 639.7L265.4 638.1L266.6 633.1L267.9 629.1L269.1 624.5L270.4 616.9L271.7 610L272.9 605.8L274.2 601.2L275.4 591.3L276.7 592.9L278 599.1L279.2 603L280.5 599.6L281.8 600.5L283 605.2L284.3 608.3L285.5 610.8L286.8 612.4L288.1 614.8L289.3 619.2L290.6 624.3L291.8 626.4L293.1 630.8L294.4 628.3L295.6 628.9L296.9 629.1L298.2 632.8L299.4 635.1L300.7 636.5L301.9 636.3L303.2 637.7L304.5 639.4L305.7 641.2L307 641.4L308.2 640.5L309.5 640.8L310.8 641.2L312 641.7L313.3 638.6L314.6 635.6L315.8 627.8L317.1 626L318.3 622.2L319.6 618.6L320.9 618L322.1 614.1L323.4 602.8L324.6 599.9L325.9 604.2L327.2 607.5L328.4 606.6L329.7 609.2L331 605.6L332.2 610L333.5 614.3L334.7 615.5L336 612.8L337.3 613.1L338.5 611.9L339.8 616.2L341 618.8L342.3 621.2L343.6 617.9L344.8 617L346.1 620.5L347.4 622.2L348.6 620.7L349.9 621.3L351.1 625.6L352.4 627.8L353.7 628L354.9 630L356.2 632.4L357.4 631.8L358.7 633.2L360 636.2L361.2 636.5L362.5 638.2L363.8 638.1L365 638L366.3 639.2L367.5 640.6L368.8 642.5L370.1 642.4L371.3 643.7L372.6 644.1L373.8 643.9L375.1 644L376.4 643.5L377.6 643.7L378.9 644.1L380.2 643.3L381.4 642.3L382.7 642.7L383.9 642.7L385.2 642.4L386.5 642.9L387.7 643L389 641.7L390.2 640.1L391.5 640.1L392.8 639.9L394 637.6L395.3 637L396.6 634.9L397.8 635.2L399.1 634.9L400.3 634.9L401.6 634.4L402.9 633.1L404.1 635.3L405.4 632.9L406.6 628.9L407.9 628.8L409.2 631.9L410.4 632.2L411.7 631.2L413 630.4L414.2 629.4L415.5 629.7L416.7 631.2L418 633L419.3 636.1L420.5 637.3L421.8 638.1L423 638.1L424.3 639.4L425.6 640.4L426.8 639.6L428.1 640.2L429.4 641.5L430.6 642.5L431.9 642.6L433.1 642.3L434.4 643.6L435.7 644.2L436.9 644.3L438.2 644.5L439.4 644.8L440.7 644.6L442 644.4L443.2 644L444.5 643.7L445.8 642.9L447 642.3L448.3 641.9L449.5 642L450.8 640.6L452.1 640.9L453.3 639.6L454.6 637.1L455.8 635.4L457.1 634.5L458.4 633.9L459.6 632.5L460.9 631.7L462.2 632.1L463.4 632.3L464.7 633.4L465.9 632.4L467.2 628.6L468.5 627.7L469.7 626.7L471 629.4L472.2 630L473.5 630.6L474.8 634.1L476 635.7L477.3 636.4L478.6 636.4L479.8 635.6L481.1 635.3L482.3 636.6L483.6 639L484.9 640L486.1 640.7L487.4 640.3L488.6 640.2L489.9 640.2L491.2 641.4L492.4 642.2L493.7 642.6L495 643.4L496.2 643.2L497.5 643.9L498.7 644.4L500 644.5L501.3 644.4L502.5 644.5L503.8 644.3L505 644.1L506.3 643.9L507.6 643.8L508.8 643.6L510.1 643.4L511.3 642.5L512.6 641.9L513.9 641.9L515.1 640.7L516.4 638.7L517.7 638.4L518.9 637.8L520.2 633.7L521.4 634.6L522.7 631.2L524 631.3L525.2 631.9L526.5 630.4L527.7 628.2L529 626.1L530.3 626.6L531.5 625.3L532.8 624L534.1 626.6L535.3 627.6L536.6 625.7L537.8 624.6L539.1 625.6L540.4 629.4L541.6 629.4L542.9 628.6L544.1 631.1L545.4 635.8L546.7 637.8L547.9 636.8L549.2 639.1L550.5 639.5L551.7 640.5L553 642.1L554.2 642.4L555.5 642.2L556.8 643.1L558 642.6L559.3 640.7L560.5 637.9L561.8 634.5L563.1 631.7L564.3 626.6L565.6 624L566.9 617.9L568.1 608.3L569.4 607.3L570.6 602.8L571.9 601.5L573.2 608.5L574.4 609.9L575.7 605.3L576.9 607.8L578.2 609.4L579.5 606.3L580.7 607.8L582 610.4L583.3 614.3L584.5 615.5L585.8 613L587 620L588.3 624.2L589.6 627.3L590.8 630.5L592.1 628.5L593.3 629.6L594.6 632.5L595.9 633.8L597.1 637.4L598.4 639.1L599.7 638.7L600.9 639L602.2 641L603.4 641.6L604.7 642.2L606 641.3L607.2 642.1L608.5 642.3L609.7 640.3L611 637.7L612.3 635L613.5 635.4L614.8 633.4L616.1 628.2L617.3 629.2L618.6 629.3L619.8 625.6L621.1 619.6L622.4 608L623.6 602.4L624.9 602.5L626.1 602.7L627.4 609.3L628.7 609.6L629.9 606.9L631.2 602.7L632.5 605.3L633.7 605.9L635 613.3L636.2 616.5L637.5 616.8L638.8 614.5L640 615.8L641.3 616.3L642.5 619.2L643.8 622.9L645.1 625.4L646.3 627.7L647.6 628.5L648.9 629.9L650.1 632.7L651.4 635.2L652.6 634.9L653.9 634.1L655.2 636.1L656.4 637.7L657.7 639.3L658.9 641.4L660.2 642.8L661.5 642.4L662.7 642.6L664 642.8L665.3 643.6L666.5 644L667.8 643.3L669 643.1L670.3 643L671.6 641.3L672.8 640.2L674.1 639.7L675.3 636.9L676.6 634L677.9 630.1L679.1 623.5L680.4 619.7L681.7 619.8L682.9 617.2L684.2 614.7L685.4 615.3L686.7 614.9L688 612.7L689.2 611L690.5 613.3L691.7 617.7L693 617.6L694.3 618.7L695.5 617L696.8 617.3L698.1 621.4L699.3 624.7L700.6 624.6L701.8 628.4L703.1 626.5L704.4 626L705.6 625.5L706.9 631.5L708.1 634.7L709.4 635.7L710.7 635.7L711.9 633.7L713.2 634.7L714.5 638.7L715.7 639.2L717 639.9L718.2 639.5L719.5 640.7L720.8 641.3L722 642.3L723.3 642.6L724.5 642.4L725.8 642.9L727.1 642.2L728.3 640.6L729.6 637.1L730.9 633L732.1 629.5L733.4 626.5L734.6 620L735.9 612.9L737.2 605.5L738.4 602.7L739.7 602.5L740.9 601L742.2 597.8L743.5 597.3L744.7 604.4L746 611.1L747.3 611.2L748.5 611.4L749.8 614.1L751 611.1L752.3 614.3L753.6 618.7L754.8 619.4L756.1 620.4L757.3 623.4L758.6 625.2L759.9 625L761.1 627.2L762.4 630.2L763.6 629.6L764.9 632.4L766.2 634.6L767.4 635.4L768.7 635.7L770 638.3L771.2 640.3L772.5 642.1L773.7 641.2L775 641.3L776.3 641.9L777.5 641.7L778.8 643L780 643.5L781.3 644.5L782.6 644.5L783.8 644.9L785.1 644.6L786.4 644.1L787.6 643.7L788.9 643.9L790.1 642.5L791.4 642.2L792.7 640.1L793.9 638.6L795.2 636.3L796.4 637.2L797.7 634.6L799 632.7L800.2 629.3L801.5 624.1L802.8 619.8L804 621.8L805.3 623.6L806.5 624.6L807.8 624.3L809.1 628.3L810.3 624.3L811.6 619.7L812.8 623.9L814.1 622.4L815.4 624.4L816.6 627L817.9 628.1L819.2 628.6L820.4 631.1L821.7 633.1L822.9 631.8L824.2 634L825.5 636.6L826.7 636.7L828 640.2L829.2 640.3L830.5 641.8L831.8 641.2L833 640.8L834.3 642.2L835.6 643.2L836.8 643.5L838.1 643.9L839.3 642.9L840.6 643.3L841.9 643.4L843.1 642.2L844.4 641.3L845.6 641.1L846.9 641.4L848.2 637.3L849.4 633.5L850.7 631.6L852 628.7L853.2 624.8L854.5 624.8L855.7 621.6L857 618.1L858.3 616.9L859.5 620.3L860.8 619.7L862 619.7L863.3 619.9L864.6 623.3L865.8 625.7L867.1 619.4L868.4 621.3L869.6 625.6L870.9 627.1L872.1 625.1L873.4 623.2L874.7 627.4L875.9 631.6L877.2 634.5L878.4 636.4L879.7 637L881 636L882.2 635.5L883.5 636.5L884.8 637.9L886 637.7L887.3 637.3L888.5 637.8L889.8 640L891.1 640.7L892.3 643.4L893.6 643.2L894.8 642.8L896.1 642.8L897.4 642.9L898.6 643.5L899.9 642.7L901.2 642.4L902.4 643.3L903.7 644L904.9 641.5L906.2 640.3L907.5 640.9L908.7 639.7L910 638.4L911.2 636.3L912.5 633.2L913.8 631L915 629.9L916.3 627.8L917.6 628.1L918.8 628.5L920.1 627.3L921.3 627L922.6 627.4L923.9 627.8L925.1 628.1L926.4 627L927.6 627L928.9 626.4L930.2 629.4L931.4 628.5L932.7 630.3L934 631.9L935.2 630.8L936.5 633.5L937.7 636.5L939 636.1L940.3 636L941.5 636.9L942.8 639.6L944 639.8L945.3 641L946.6 641.6L947.8 642.2L949.1 642.8L950.4 643.1L951.6 643.1L952.9 643.8L954.1 643.8L955.4 644L956.7 644L957.9 644L959.2 643.5L960.4 643.3L961.7 643.4L963 643L964.2 640.3L965.5 637.6L966.8 636.3L968 635.7L969.3 634.1L970.5 631.9L971.8 627.7L973.1 621.3L974.3 613.9L975.6 611L976.8 612.9L978.1 611.6L979.4 610.4L980.6 611.3L981.9 615.4L983.2 618.6L984.4 618.7L985.7 619.2L986.9 619L988.2 621.4L989.5 626L990.7 626L992 625.2L993.2 628.1L994.5 631.8L995.8 633.1L997 634.1L998.3 637.9L999.6 640L1000.8 641.7L1002.1 642L1003.3 642.2L1004.6 642.7L1005.9 643.7L1007.1 644L1008.4 643.9L1009.6 644.2L1010.9 643.3L1012.2 643.4L1013.4 642.2L1014.7 640.9L1015.9 639.7L1017.2 639.5L1018.5 638.8L1019.7 637.1L1021 634.4L1022.3 636.5L1023.5 635.7L1024.8 631.7L1026 628.3L1027.3 625.9L1028.6 626.2L1029.8 625.7L1031.1 621.8L1032.3 623L1033.6 621.2L1034.9 619.3L1036.1 625L1037.4 625L1038.7 628.1L1039.9 627.4L1041.2 629.2L1042.4 632.7L1043.7 630.1L1045 632.2L1046.2 634.2L1047.5 637.9L1048.7 639.3L1050 640L1051.3 640.9L1052.5 641L1053.8 643L1055.1 643.7L1056.3 643.9L1057.6 643.3L1058.8 643.2L1060.1 642.9L1061.4 643.6L1062.6 642.9L1063.9 641.6L1065.1 638.6L1066.4 639.6L1067.7 638.3L1068.9 633.1L1070.2 627.2L1071.5 623L1072.7 618.5L1074 614.4L1075.2 613.8L1076.5 608.9L1077.8 606.1L1079 606.4L1080.3 609.1L1081.5 608.7L1082.8 610.9L1084.1 615L1085.3 618.3L1086.6 614.3L1087.9 617L1089.1 620.1L1090.4 623.7L1091.6 625.4L1092.9 627.8L1094.2 628.2L1095.4 630.2L1096.7 631L1097.9 632.5L1099.2 631.1L1100.5 634.4L1101.7 636.3L1103 637L1104.3 637.4L1105.5 639.4L1106.8 640.2L1108 641.4L1109.3 642.9L1110.6 643L1111.8 642.1L1113.1 642L1114.3 641.4L1115.6 639.6L1116.9 638.4L1118.1 636.5L1119.4 634.4L1120.7 628.9L1121.9 623.8L1123.2 619L1124.4 610.9L1125.7 604L1127 605.4L1128.2 610.4L1129.5 607.9L1130.7 604.4L1132 610.8L1133.3 611.5L1134.5 609L1135.8 612.9L1137.1 615.2L1138.3 616.2L1139.6 614.8L1140.8 619.7L1142.1 622.9L1143.4 625.3L1144.6 627L1145.9 626.9L1147.1 627.4L1148.4 630.9L1149.7 633.5L1150.9 635.5L1152.2 637.5L1153.5 636.8L1154.7 638L1156 639.9L1157.2 641.3L1158.5 641.4L1159.8 641.6L1161 642.3L1162.3 643.6L1163.5 644L1164.8 644.2L1166.1 642.9L1167.3 641.2L1168.6 637.2L1169.9 634.5L1171.1 631.8L1172.4 626.9L1173.6 623.1L1174.9 615.9L1176.2 610.6L1177.4 606L1178.7 600.1L1179.9 597.5L1181.2 596.2L1182.5 594.5L1183.7 594.1L1185 594.3L1186.3 597L1187.5 599.8L1188.8 599.5L1190 603.8L1191.3 606.8L1192.6 606.8L1193.8 607.2L1195.1 609.4L1196.3 612L1197.6 620.6L1198.9 620.6L1200.1 623.8L1201.4 625.1L1202.7 628.7L1203.9 630.1L1205.2 632.1L1206.4 635.3L1207.7 636L1209 635.8L1210.2 638.3L1211.5 640.8L1212.7 640.4L1214 640.8L1215.3 642.1L1216.5 642.9L1217.8 642.1L1219.1 640.8L1220.3 640.2L1221.6 640.4L1222.8 639.3L1224.1 636.5L1225.4 634.7L1226.6 633.1L1227.9 631.1L1229.1 626.9L1230.4 626.5L1231.7 623.9L1232.9 624L1234.2 624.1L1235.5 617.6L1236.7 616.6L1238 615.4L1239.2 614.5L1240.5 614.4L1241.8 613.7L1243 617.2L1244.3 622.4L1245.5 624.2L1246.8 624.1L1248.1 623.3L1249.3 624.7L1250.6 626.7L1251.9 627.7L1253.1 626.9L1254.4 627.4L1255.6 630.1L1256.9 631.7L1258.2 632.8L1259.4 634.6L1260.7 637L1261.9 636.7L1263.2 638.2L1264.5 639.8L1265.7 640.5L1267 642.1L1268.2 642.2L1269.5 641.1L1270.8 641.5L1272 642.4L1273.3 642.6L1274.6 641.5L1275.8 640.7L1277.1 639.7L1278.3 638.4L1279.6 637.4L1280.9 634.6L1282.1 631.3L1283.4 627.4L1284.6 624.3L1285.9 622.4L1287.2 618L1288.4 608.3L1289.7 604.6L1291 604.7L1292.2 605.1L1293.5 608.4L1294.7 611.7L1296 610.5L1297.3 607.2L1298.5 607.7L1299.8 607.9L1301 612.7L1302.3 614.2L1303.6 614.4L1304.8 614.7L1306.1 620.1L1307.4 622.3L1308.6 625.2L1309.9 627.5L1311.1 628.7L1312.4 631.2L1313.7 635.1L1314.9 637L1316.2 638.2L1317.4 638.7L1318.7 640.5L1320 641.2L1321.2 641.5L1322.5 641.5L1323.8 641.8L1325 641.4L1326.3 642L1327.5 641.8L1328.8 642.2L1330.1 641.2L1331.3 639.7L1332.6 637.3L1333.8 634.3L1335.1 626.4L1336.4 620.6L1337.6 619.4L1338.9 612.8L1340.2 610.7L1341.4 606.3L1342.7 607.7L1343.9 603.2L1345.2 599.2L1346.5 605.6L1347.7 613L1349 612L1350.2 615.9L1351.5 614.9L1352.8 616L1354 616.3L1355.3 618.6L1356.6 619.1L1357.8 616.7L1359.1 624.1L1360.3 627.9L1361.6 631.7L1362.9 632.5L1364.1 633.2L1365.4 634.5L1366.6 634.6L1367.9 634.6L1369.2 636L1370.4 638L1371.7 639.7L1373 641.6L1374.2 640.7L1375.5 641.4L1376.7 642.4L1378 642.3L1379.3 643.1L1380.5 643.6L1381.8 643.2L1383 642.1L1384.3 639.5L1385.6 637L1386.8 636.3L1388.1 633.4L1389.4 628.5L1390.6 625.8L1391.9 624.2L1393.1 624L1394.4 617.1L1395.7 615.5L1396.9 617.1L1398.2 617.2L1399.4 615L1400.7 617.7L1402 614.8L1403.2 613.7L1404.5 614.1L1405.8 616.9L1407 617.5L1408.3 618.9L1409.5 619.1L1410.8 620.6L1412.1 623.5L1413.3 624.4L1414.6 623.1L1415.8 626.5L1417.1 629.8L1418.4 633.4L1419.6 632.9L1420.9 636.1L1422.2 636.4L1423.4 636.4L1424.7 635.6L1425.9 637.8L1427.2 640.4L1428.5 642.1L1429.7 642.9L1431 642.6L1432.2 643.8L1433.5 643.7L1434.8 643.7L1436 644L1437.3 644.2L1438.6 644.4L1439.8 644.4L1441.1 644.1L1442.3 643.8L1443.6 643.3L1444.9 642.8L1446.1 642L1447.4 641.3L1448.6 639.9L1449.9 639.6L1451.2 635.4L1452.4 632.1L1453.7 628L1455 627.4L1456.2 628.7L1457.5 628.7L1458.7 630.4L1460 627.8L1461.3 628.7L1462.5 627.3L1463.8 626.2L1465 624.5L1466.3 623.6L1467.6 625.3L1468.8 627.2L1470.1 628.1L1471.8 631.6L1472.6 632.3L1473.5 632.6L1474.3 633.5L1475.1 634.3L1476 636.1L1476.8 636.7L1477.7 637.8L1478.5 638.8L1479.3 639.4L1480.2 640L1481 640.9L1481.9 640.1L1482.7 640.8L1483.5 641.5L1484.4 642L1485.2 642.6L1486.1 643.4L1486.9 643.4L1487.8 643.6L1488.6 643.6L1489.4 644L1490.3 643.8L1491.1 643.9L1492 644.1L1492.8 644.2L1493.6 644.4L1494.5 644.6L1495.3 644.6L1496.2 644.3L1497 644.2L1497.8 643.4L1498.7 642.8L1499.5 642.4L1500.4 641.8L1501.2 640.9L1502 640.5L1502.9 639.4L1503.7 637.8L1504.6 635.9L1505.4 633.4L1506.3 631.9L1507.1 630.5L1507.9 629.3L1508.8 627.3L1509.6 625.9L1510.5 624.5L1511.3 621.9L1512.1 620.8L1513 621.8L1513.8 621.5L1514.7 622.9L1515.5 622.2L1516.3 619.6L1517.2 616.8L1518 615.3L1518.9 614.3L1519.7 615.3L1520.6 619.2L1521.4 620.5L1522.2 621.5L1523.1 622.6" stroke="#2b2f33" stroke-width="1.5" fill="none" stroke-linejoin="round"/>
<path d="M1523.1 622.6L1523.9 620.8L1524.8 620.7L1525.6 621.1L1526.4 621.8L1527.3 622.7L1528.1 623.7L1529 624.7L1529.8 625.8L1530.6 627L1531.5 628L1532.3 629.1L1533.2 630.2L1534 631.2L1534.8 632.3L1535.7 633.2L1536.5 634.2L1537.4 635.1L1538.2 635.9L1539.1 636.7L1539.9 637.4L1540.7 638.1L1541.6 638.8L1542.4 639.4L1543.3 640L1544.1 640.6L1544.9 641.1L1545.8 641.6L1546.6 642L1547.5 642.3L1548.3 642.6L1549.1 642.9L1550 643.1L1550.4 643.2" stroke="#800080" stroke-width="1.4" fill="none" stroke-linejoin="round"/>
<path d="M128 584.3H1601.5" stroke="#999" stroke-width="1.4" fill="none"/>
<path d="M1474.2 584.3V645.3M1549.5 584.3V645.3" stroke="#999" stroke-width="1.3" fill="none"/>
<rect x="1468.1" y="603.9" width="12.2" height="22.6" fill="#f2f2f2" stroke="#999" stroke-width="1.2"/>
<path d="M1472.6 609V621.6M1475.9 609V621.6" stroke="#8a8a8a" stroke-width="1.1"/>
<rect x="1543.5" y="603.9" width="12.2" height="22.6" fill="#f2f2f2" stroke="#999" stroke-width="1.2"/>
<path d="M1548 609V621.6M1551.3 609V621.6" stroke="#8a8a8a" stroke-width="1.1"/>
</g>
<g id="legend" font-size="17.2" fill="#333">
<path d="M110 672.4H133.6" stroke="#2b3a48" stroke-width="2.5" stroke-linecap="round"/>
<path d="M122 666.8l4.7 5.6l-4.7 5.6l-4.7 -5.6z" fill="#2b3a48"/>
<text x="142.2" y="678.4" textLength="128.7" lengthAdjust="spacingAndGlyphs">Monthly Values</text>
<path d="M442.4 672.4H464.2" stroke="#7a3fe2" stroke-width="2.5" stroke-linecap="round"/>
<text x="473.4" y="678.4" textLength="221.9" lengthAdjust="spacingAndGlyphs">Smoothed Monthly Values</text>
<rect x="773.1" y="670" width="23.2" height="8.5" fill="#f892b2"/>
<text x="804.8" y="678.4" textLength="268.9" lengthAdjust="spacingAndGlyphs">75th Percentile Predicted Range</text>
<rect x="1104.4" y="670" width="23.3" height="8.5" fill="#f892b2"/>
<text x="1136.5" y="678.4" textLength="268.1" lengthAdjust="spacingAndGlyphs">50th Percentile Predicted Range</text>
<rect x="110.3" y="698.8" width="23.1" height="8" fill="#8b008b"/>
<text x="142.2" y="706.7" textLength="268.5" lengthAdjust="spacingAndGlyphs">25th Percentile Predicted Range</text>
<path d="M443.6 700.7H462.8" stroke="#8b008b" stroke-width="4.6" stroke-linecap="round"/>
<text x="473.4" y="706.7" textLength="138.2" lengthAdjust="spacingAndGlyphs">Predicted Values</text>
</g>
<text x="1420.8" y="676.5" font-size="17.4" fill="#7d7d7d" textLength="179" lengthAdjust="spacingAndGlyphs">Updated: 2025-10-02</text>
<defs><clipPath id="nc"><circle cx="0" cy="0" r="29.8"/></clipPath><clipPath id="wc"><circle cx="0" cy="0" r="22.2"/></clipPath><path id="ring" d="M-13.14 21.03A24.8 24.8 0 1 1 12.40 21.48"/></defs>
<g id="noaa" transform="translate(1488.6,737.5)"><g clip-path="url(#nc)">
<circle r="30" fill="#1791d8"/>
<path d="M-31 -10C-26 -6.5 -24 -5 -21.7 -2.9C-19 -0.5 -17 1.5 -14.2 3.6C-12 5.2 -10 6.5 -7.7 7.4C-5.5 8.2 -4 8.4 -2.1 8.3C-4.5 9.4 -7 10.4 -9.8 11.2C-5 11 0 9.8 4.5 8.3C8 7.2 11 6 13 4.9C15.5 2.5 17.5 0 19.4 -2.9C21.5 -5.5 23.5 -7.5 25 -9.4C27 -12 29 -14 32 -17L30 -32L-32 -32Z" fill="#fff"/>
<path d="M-27 -19.5C-22 -17.5 -20 -15.5 -17.9 -13.2C-15.5 -10.5 -14 -8 -12.3 -5.7C-10.5 -3 -9.5 -1.8 -7.7 -0.1C-6 1.5 -4 2.8 -2.1 3.6C-0.5 4.4 1 4.8 2.6 4.6C4.5 4.2 6.5 3.2 8.2 1.8C10 0 11.5 -2.3 12.9 -4.8C14.3 -7.3 15.3 -9.7 16.6 -12.2C18 -15 20 -17.5 24.5 -20.3L24 -32L-27 -32Z" fill="#0b3b97"/>
</g>
<text x="0" y="-11.3" text-anchor="middle" font-size="9.8" font-weight="bold" fill="#fff" textLength="24.2" lengthAdjust="spacingAndGlyphs">NOAA</text>
</g>
<g id="nws" transform="translate(1570,736)">
<g clip-path="url(#wc)">
<circle r="23" fill="#fff"/>
<path d="M-23 -23H23V2H-23Z" fill="#46ace4"/>
<path d="M-14 -10A14.5 14.5 0 0 1 15 -8L15 0H-14Z" fill="#9ad6f4" fill-opacity="0.6"/>
<path d="M0.4 -14V-23M9 -13L12.5 -19.5M-9 -10L-15.5 -16.5M16 -8L21 -11" stroke="#1c2fa8" stroke-width="0.7" fill="none"/>
<path d="M-23 16C-18 12.5 -13 18 -7 15.5C-2 13.5 3 17.5 8 15.5C13 13.5 18 15.5 23 13V23H-23Z" fill="#46ace4"/>
</g>
<circle r="22.3" fill="none" stroke="#1c2fa8" stroke-width="0.9"/>
<path d="M-21 -6.5C-19 -10.5 -12 -11 -8.5 -8C-7 -13 2 -14.5 6 -13C11 -14.5 16 -12 17 -7.5C21 -8.5 25.5 -6 25.5 -1.5C25.5 2 22 4 19 3.5C20 7 16 9.5 12 8C9 12 2 12.5 -1 10C-4 13 -11 13 -13.5 9.5C-18 11 -22 9 -21.5 5.5C-26 5 -27 -1 -24 -3.5C-24.5 -5.5 -23 -6.8 -21 -6.5Z" fill="#0c0c9e"/>
<path d="M-18 -19.6L-11.3 -20.2L-1.8 -8.2L-5.6 -7.4L4.2 3.2L0.6 4L18.2 17.6L1.2 8.6L5 7.4L-7.2 -3L-3 -4.2L-13 -14.6Z" fill="#fff" stroke="#1c2fa8" stroke-width="0.6" stroke-linejoin="round"/>
<text font-size="10.9" font-weight="bold" fill="#e8262c" stroke="#e8262c" stroke-width="0.35"><textPath href="#ring" startOffset="0" textLength="38.5" lengthAdjust="spacingAndGlyphs">NATIONAL</textPath><textPath href="#ring" startOffset="46.7" textLength="40.7" lengthAdjust="spacingAndGlyphs">WEATHER</textPath><textPath href="#ring" startOffset="94.4" textLength="33.8" lengthAdjust="spacingAndGlyphs">SERVICE</textPath></text>
<circle cx="-9.4" cy="29.2" r="1.3" fill="#1c2fa8"/><circle cx="8.3" cy="29.2" r="1.3" fill="#1c2fa8"/>
<path d="M-0.5 27.2l0.8 2.2h2.3l-1.9 1.4l0.7 2.25l-1.9 -1.35l-1.9 1.35l0.7 -2.25l-1.9 -1.4h2.3z" fill="#e8262c"/>
</g>
</svg>
</body></html>
